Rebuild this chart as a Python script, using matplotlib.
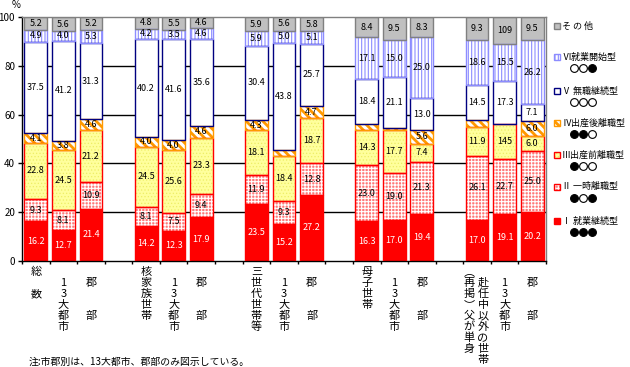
import matplotlib
matplotlib.use("Agg")
import numpy as np
import matplotlib.pyplot as plt
import matplotlib.transforms as mtransforms
from matplotlib.patches import Rectangle
from matplotlib.lines import Line2D

plt.rcParams['font.family'] = ['Noto Sans CJK JP', 'DejaVu Sans']
plt.rcParams['hatch.linewidth'] = 0.8

# series, bottom to top: I, II, III, IV, V, VI, other
s1 = [16.2, 12.7, 21.4, 14.2, 12.3, 17.9, 23.5, 15.2, 27.2, 16.3, 17.0, 19.4, 17.0, 19.1, 20.2]
s2 = [9.3, 8.1, 10.9, 8.1, 7.5, 9.4, 11.9, 9.3, 12.8, 23.0, 19.0, 21.3, 26.1, 22.7, 25.0]
s3 = [22.8, 24.5, 21.2, 24.5, 25.6, 23.3, 18.1, 18.4, 18.7, 14.3, 17.7, 7.4, 11.9, 14.5, 6.0]
s4 = [4.1, 3.8, 4.6, 4.0, 4.0, 4.6, 4.3, 2.7, 4.7, 2.5, 0.7, 5.6, 2.6, 0.0, 6.0]
s5 = [37.5, 41.2, 31.3, 40.2, 41.6, 35.6, 30.4, 43.8, 25.7, 18.4, 21.1, 13.0, 14.5, 17.3, 7.1]
s6 = [4.9, 4.0, 5.3, 4.2, 3.5, 4.6, 5.9, 5.0, 5.1, 17.1, 15.0, 25.0, 18.6, 15.5, 26.2]
s7 = [5.2, 5.6, 5.2, 4.8, 5.5, 4.6, 5.9, 5.6, 5.8, 8.4, 9.5, 8.3, 9.3, 10.9, 9.5]
series = [s1, s2, s3, s4, s5, s6, s7]

# labels as printed in the source (two have the decimal point missing)
label_override = {(2, 13): '145', (6, 13): '109'}

cats = ['総 数', ' 13大都市', ' 郡  部',
        '核家族世帯', ' 13大都市', ' 郡  部',
        '三世代世帯等', ' 13大都市', ' 郡  部',
        '母子世帯', ' 13大都市', ' 郡  部',
        ('︵再掲︶父が単身', ' 赴任中以外の世帯'), ' 13大都市', ' 郡  部']

legend_labels = ['そ の 他', 'Ⅵ就業開始型', 'Ⅴ 無職継続型', 'Ⅳ出産後離職型',
                 'Ⅲ出産前離職型', 'Ⅱ 一時離職型', 'Ⅰ 就業継続型']
legend_marks = ['', '○○●', '○○○', '●●○', '●○○', '●○●', '●●●']

note = '注:市郡別は、13大都市、郡部のみ図示している。'

# (face, hatch, hatch colour, edge, hatch lw)
styles = [
    ('#ff0000', None, None, '#ff0000', 0.8),
    ('#ff7878', '+++++', 'white', '#ff0000', 0.8),
    ('#ffff9c', '.....', '#eeee66', '#ff0000', 0.5),
    ('white', '\\\\\\\\', '#ff9900', '#ff9900', 2.0),
    ('white', None, None, '#000080', 0.8),
    ('white', '|||||', '#8c8cff', '#8c8cff', 0.8),
    ('#c0c0c0', None, None, '#808080', 0.8),
]

W, H = 630, 367
fig = plt.figure(figsize=(W / 100, H / 100), dpi=100)
ax = fig.add_axes([22 / W, 1 - 261 / H, (546 - 22) / W, (261 - 17) / H])
ax.set_xlim(-0.5, 18.5)
ax.set_ylim(0, 100)

xpos = np.array([g * 4 + j for g in range(5) for j in range(3)], dtype=float)
bw = 0.83

for y in [20, 40, 60, 80]:
    ax.axhline(y, color='black', lw=1.0, zorder=1)

bottom = np.zeros(len(xpos))
for k, (vals, (fc, hatch, hc, ec, hlw)) in enumerate(zip(series, styles)):
    vals = np.array(vals)
    m = vals > 0
    with plt.rc_context({'hatch.linewidth': hlw}):
        ax.bar(xpos[m], vals[m], bw, bottom=bottom[m], color=fc, hatch=hatch,
               edgecolor=hc if hc else fc, linewidth=0, zorder=2)
    ax.bar(xpos[m], vals[m], bw, bottom=bottom[m], fill=False,
           edgecolor=ec, linewidth=1.0, zorder=3)
    for i in range(len(xpos)):
        if vals[i] >= 3:
            txt = label_override.get((k, i), f'{vals[i]:.1f}')
            ax.text(xpos[i], bottom[i] + vals[i] / 2, txt, ha='center', va='center',
                    fontsize=6.5, color='white' if k == 0 else 'black', zorder=4)
    bottom += vals

ax.set_yticks([0, 20, 40, 60, 80, 100])
ax.tick_params(axis='y', length=3, width=1, pad=2, labelsize=7)
ax.set_xticks([])
ax.set_xticks(np.arange(-0.5, 18.6, 1), minor=True)
ax.tick_params(axis='x', which='minor', length=2.5, width=1, direction='out')
for side in ['left', 'bottom']:
    ax.spines[side].set_color('black')
    ax.spines[side].set_linewidth(1.0)
for side in ['top', 'right']:
    ax.spines[side].set_color('#808080')
    ax.spines[side].set_linewidth(1.0)

fig.text(16 / W, 1 - 5 / H, '%', ha='center', va='center', fontsize=7)

# vertical category labels, one character per line
btrans = mtransforms.blended_transform_factory(ax.transData, fig.transFigure)
def column(x, text, dx):
    tr = mtransforms.offset_copy(btrans, fig=fig, x=dx, y=0, units='dots')
    for n, ch in enumerate(text):
        if ch == ' ':
            continue
        ax.text(x, 1 - (272 + 11 * n) / H, ch, transform=tr, ha='center',
                va='center', fontsize=8, clip_on=False)

for x, lab in zip(xpos, cats):
    if isinstance(lab, tuple):
        column(x, lab[0], -8)
        column(x, lab[1], 6)
    else:
        column(x, lab, 0)

fig.text(29 / W, 1 - 362 / H, note, ha='left', va='center', fontsize=7.1)

# legend
ly = [26, 57, 91, 123, 155, 187, 221]
for lab, mk, st, y in zip(legend_labels, legend_marks, styles[::-1], ly):
    fc, hatch, hc, ec, hlw = st
    with plt.rc_context({'hatch.linewidth': hlw}):
        fig.add_artist(Rectangle((554 / W, 1 - (y + 3) / H), 6 / W, 6 / H,
                                 transform=fig.transFigure, facecolor=fc, hatch=hatch,
                                 edgecolor=hc if hc else fc, linewidth=0))
    fig.add_artist(Rectangle((554 / W, 1 - (y + 3) / H), 6 / W, 6 / H,
                             transform=fig.transFigure, fill=False, edgecolor=ec,
                             linewidth=1.0))
    fig.text(562 / W, 1 - y / H, lab, ha='left', va='center', fontsize=6.5)
    for j, c in enumerate(mk):
        fig.add_artist(Line2D([(573.5 + 9.2 * j) / W], [1 - (y + 11) / H],
                              transform=fig.transFigure, marker='o', markersize=5.6,
                              markeredgewidth=0.8, markeredgecolor='black',
                              markerfacecolor='black' if c == '●' else 'white',
                              linestyle='none'))

fig.savefig('out.png', dpi=100)
